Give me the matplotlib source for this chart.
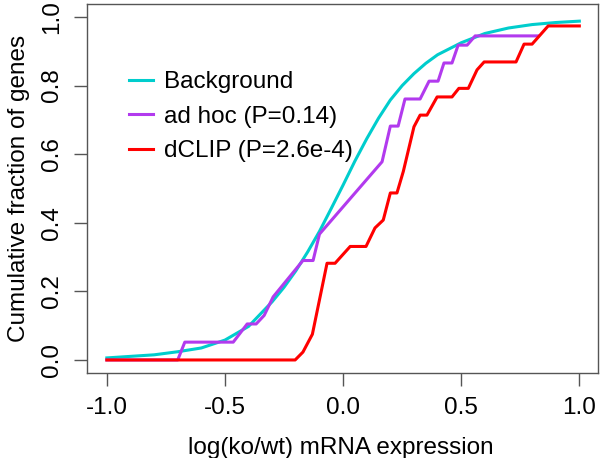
import matplotlib

matplotlib.use("Agg")
import matplotlib.pyplot as plt

# Background ECDF (smooth curve)
bg_x = [-1.0, -0.8, -0.7, -0.6, -0.5, -0.4, -0.3, -0.25, -0.2, -0.15, -0.1,
        -0.05, 0.0, 0.05, 0.1, 0.15, 0.2, 0.25, 0.3, 0.35, 0.4, 0.5, 0.6,
        0.7, 0.8, 0.9, 1.0]
bg_y = [0.006, 0.015, 0.024, 0.035, 0.058, 0.098, 0.17, 0.212, 0.26, 0.315,
        0.375, 0.442, 0.51, 0.58, 0.645, 0.705, 0.758, 0.80, 0.835, 0.865,
        0.89, 0.925, 0.952, 0.968, 0.978, 0.984, 0.988]

# ad hoc targets
adhoc_x = [-1.0, -0.70, -0.67, -0.465, -0.406, -0.368, -0.334, -0.296, -0.17,
           -0.127, -0.10, 0.165, 0.2, 0.233, 0.262, 0.326, 0.364, 0.402, 0.427,
           0.461, 0.487, 0.525, 0.559, 0.825]
adhoc_y = [0.0, 0.0, 0.052, 0.052, 0.105, 0.105, 0.13, 0.184, 0.29,
           0.29, 0.367, 0.578, 0.682, 0.682, 0.761, 0.761, 0.813, 0.813, 0.866,
           0.866, 0.918, 0.918, 0.945, 0.945]

# dCLIP targets
dclip_x = [-1.0, -0.203, -0.17, -0.13, -0.068, -0.034, 0.03, 0.097, 0.135,
           0.17, 0.2, 0.228, 0.255, 0.30, 0.326, 0.355, 0.398, 0.461, 0.49,
           0.53, 0.567, 0.597, 0.732, 0.766, 0.80, 0.868, 1.0]
dclip_y = [0.0, 0.0, 0.023, 0.075, 0.282, 0.282, 0.331, 0.331, 0.385,
           0.408, 0.487, 0.487, 0.55, 0.68, 0.714, 0.714, 0.767, 0.767, 0.792,
           0.792, 0.846, 0.869, 0.869, 0.921, 0.921, 0.974, 0.974]

labels = ["Background", "ad hoc (P=0.14)", "dCLIP (P=2.6e-4)"]
colors = ["#00CDCD", "#B23AEE", "#FF0000"]
x_ticks = [-1.0, -0.5, 0.0, 0.5, 1.0]
y_ticks = [0.0, 0.2, 0.4, 0.6, 0.8, 1.0]

plt.rcParams["font.family"] = ["Liberation Sans", "DejaVu Sans"]
plt.rcParams["font.size"] = 17.5

fig = plt.figure(figsize=(6, 4.58), dpi=100)
ax = fig.add_axes([87 / 600, 1 - 373 / 458, 511 / 600, 369 / 458])

ax.plot(bg_x, bg_y, color=colors[0], lw=2.2, label=labels[0])
ax.plot(adhoc_x, adhoc_y, color=colors[1], lw=2.2, label=labels[1])
ax.plot(dclip_x, dclip_y, color=colors[2], lw=2.2, label=labels[2])

ax.set_xlim(-1.084, 1.079)
ax.set_ylim(-0.038, 1.038)
ax.set_xticks(x_ticks)
ax.set_xticklabels([f"{t:.1f}" for t in x_ticks])
ax.set_yticks(y_ticks)
ax.set_yticklabels([f"{t:.1f}" for t in y_ticks], rotation=90, va="center")

for s in ax.spines.values():
    s.set_color("#555555")
    s.set_linewidth(1.0)
ax.tick_params(direction="out", length=9.5, width=1.0, color="#555555", pad=8)

ax.set_xlabel("log(ko/wt) mRNA expression")
ax.set_ylabel("Cumulative fraction of genes")
ax.xaxis.set_label_coords(0.497, -0.174)
ax.yaxis.set_label_coords(-0.111, 0.5)

ax.legend(loc="upper left", bbox_to_anchor=(129 / 600, 1 - 71 / 458),
          bbox_transform=fig.transFigure, frameon=False, borderpad=0,
          borderaxespad=0, handlelength=1.0, handletextpad=0.45,
          labelspacing=0.52)

fig.savefig("out.png", dpi=100)
